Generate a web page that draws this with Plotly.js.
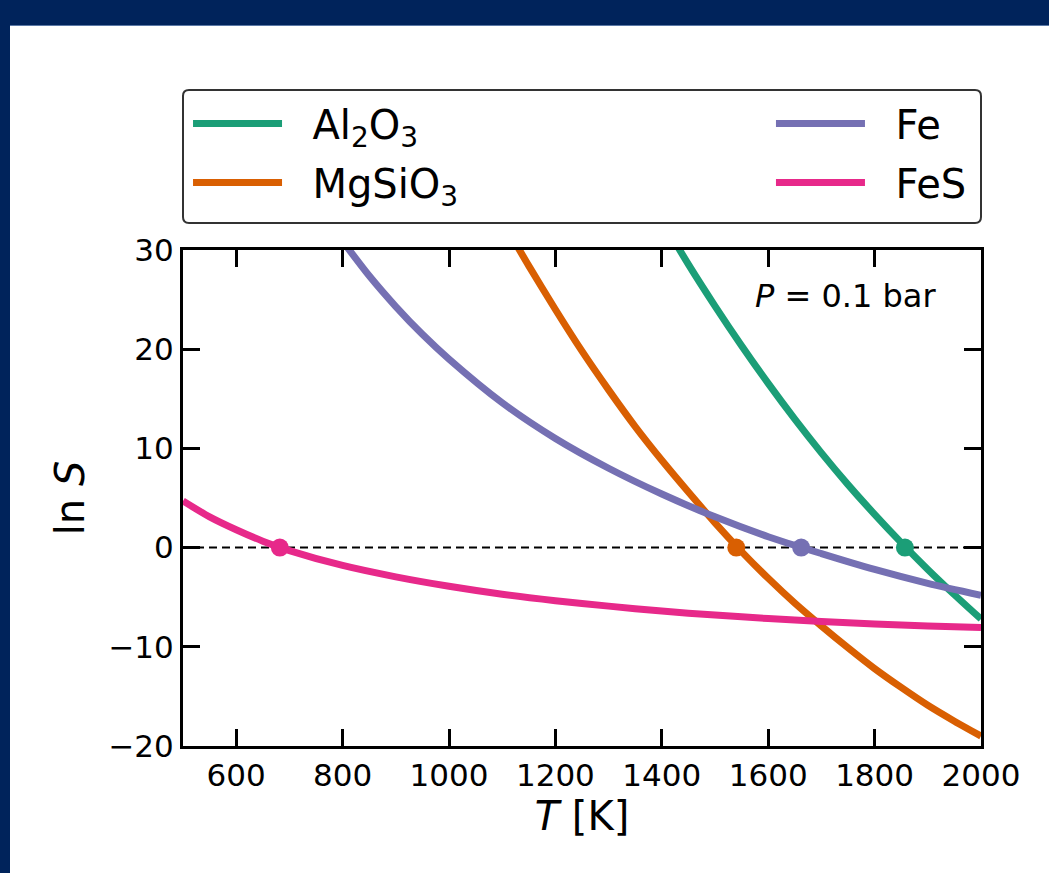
<!DOCTYPE html>
<html>
<head>
<meta charset="utf-8">
<script src="https://cdn.plot.ly/plotly-3.0.1.min.js"></script>
<style>
  html, body { margin:0; padding:0; background:#00235b; width:1049px; height:873px; overflow:hidden; }
  #sep { position:absolute; left:10px; top:25px; width:1039px; height:1px; background:#5a78a6; }
  #chart { position:absolute; left:10px; top:26px; width:1039px; height:847px; background:#ffffff; }
</style>
</head>
<body>
<div id="sep"></div>
<div id="chart"></div>
<script>
// ---- data ----
const T_Al2O3   = [1400,1450,1500,1550,1600,1650,1700,1750,1800,1850,1900,1950,2000];
const lnS_Al2O3 = [33.05,28.55,24.35,20.35,16.55,12.95,9.55,6.35,3.35,0.5,-2.2,-4.75,-7.2];

const T_MgSiO3   = [1100,1150,1200,1250,1300,1350,1400,1450,1500,1550,1600,1650,1700,1750,1800,1850,1900,1950,2000];
const lnS_MgSiO3 = [33.0,28.4,24.0,19.8,15.9,12.2,8.8,5.6,2.5,-0.4,-3.1,-5.6,-7.9,-10.1,-12.2,-14.1,-15.9,-17.5,-19.0];

const T_Fe   = [800,850,900,950,1000,1100,1200,1300,1400,1500,1600,1700,1800,1900,2000];
const lnS_Fe = [30.9,27.4,24.3,21.5,19.0,14.6,11.0,8.0,5.4,3.1,1.1,-0.6,-2.2,-3.6,-4.8];

const T_FeS   = [500,550,600,650,700,800,900,1000,1100,1200,1300,1400,1500,1600,1700,1800,1900,2000];
const lnS_FeS = [4.7,3.1,1.8,0.65,-0.3,-1.8,-2.95,-3.9,-4.7,-5.35,-5.9,-6.4,-6.8,-7.15,-7.45,-7.7,-7.9,-8.05];

// condensation temperatures (ln S = 0)
const T_cond   = [1857, 1540, 1662, 682];
const lnS_cond = [0, 0, 0, 0];

const xTicks = [600,800,1000,1200,1400,1600,1800,2000];
const yTicks = [-20,-10,0,10,20,30];

const colors = {Al2O3:'#1b9e77', MgSiO3:'#d95f02', Fe:'#7570b3', FeS:'#e7298a'};
const condColors = [colors.Al2O3, colors.MgSiO3, colors.Fe, colors.FeS];

const NB = '\u00a0\u00a0';
const lw = 7;
function line(x, y, name, color, legend) {
  return {x:x, y:y, name:NB + name, type:'scatter', mode:'lines', legend:legend,
          legendgroup:name,
          line:{color:color, width:lw, shape:'spline', smoothing:0.8}};
}

const traces = [
  line(T_Al2O3, lnS_Al2O3, 'Al<sub>2</sub>O<sub>3</sub>', colors.Al2O3, 'legend'),
  line(T_MgSiO3, lnS_MgSiO3, 'MgSiO<sub>3</sub>', colors.MgSiO3, 'legend'),
  line(T_Fe, lnS_Fe, 'Fe', colors.Fe, 'legend2'),
  line(T_FeS, lnS_FeS, 'FeS', colors.FeS, 'legend2'),
  {x:T_cond, y:lnS_cond, type:'scatter', mode:'markers', showlegend:false,
   marker:{color:condColors, size:18, line:{width:0}}, cliponaxis:false}
];

const axisCommon = {
  showline:true, linewidth:3, linecolor:'#000', mirror:'ticks',
  ticks:'inside', ticklen:17, tickwidth:3, tickcolor:'#000',
  showgrid:false, zeroline:false,
  tickfont:{size:31, color:'#000'}
};

const legendCommon = {
  orientation:'v', yanchor:'top', xanchor:'left', y:1.3206,
  itemwidth:89, tracegroupgap:4,
  font:{size:40, color:'#000'},
  bgcolor:'rgba(0,0,0,0)', borderwidth:0
};

// legend frame (rounded) in paper coords
const fx0 = 0, fx1 = 1, fy0 = 1.0544, fy1 = 1.3226, rx = 0.0075, ry = 0.0121;
const framePath =
  `M${fx0+rx},${fy1} L${fx1-rx},${fy1} Q${fx1},${fy1} ${fx1},${fy1-ry} ` +
  `L${fx1},${fy0+ry} Q${fx1},${fy0} ${fx1-rx},${fy0} ` +
  `L${fx0+rx},${fy0} Q${fx0},${fy0} ${fx0},${fy0+ry} ` +
  `L${fx0},${fy1-ry} Q${fx0},${fy1} ${fx0+rx},${fy1} Z`;

const layout = {
  width:1039, height:847,
  paper_bgcolor:'#ffffff', plot_bgcolor:'#ffffff',
  font:{family:'DejaVu Sans', color:'#000'},
  margin:{l:173, r:68, t:224, b:127},
  showlegend:true,
  legend: Object.assign({}, legendCommon, {x:0.0063}),
  legend2: Object.assign({}, legendCommon, {x:0.7368}),
  xaxis: Object.assign({}, axisCommon, {
    range:[500,2000], tickvals:xTicks, ticktext:xTicks.map(String),
    title:{text:'<i>T</i> [K]', font:{size:40}, standoff:8}
  }),
  yaxis: Object.assign({}, axisCommon, {
    range:[-20,30], tickvals:yTicks,
    title:{text:'ln <i>S</i>', font:{size:40}, standoff:12}
  }),
  shapes:[
    {type:'line', xref:'paper', x0:0, x1:1, yref:'y', y0:0, y1:0,
     line:{color:'#000', width:2, dash:'8px,5px'}, layer:'below'},
    {type:'path', xref:'paper', yref:'paper', path:framePath,
     line:{color:'#333333', width:2}, fillcolor:'rgba(0,0,0,0)', layer:'above'}
  ],
  annotations:[
    {text:'<i>P</i> = 0.1 bar', xref:'paper', yref:'paper', x:0.946, y:0.907,
     xanchor:'right', yanchor:'middle', showarrow:false, font:{size:32, color:'#000'}}
  ]
};

Plotly.newPlot('chart', traces, layout, {displayModeBar:false, staticPlot:true});
</script>
</body>
</html>
